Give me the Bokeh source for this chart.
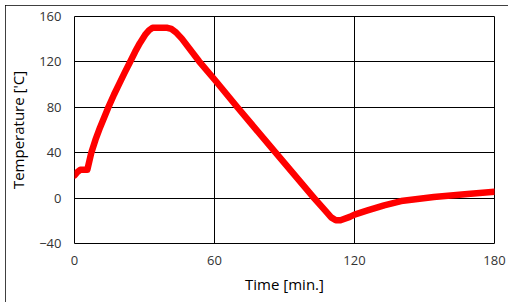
from bokeh.plotting import figure
from bokeh.models import Range1d, FixedTicker
from bokeh.embed import file_html
from bokeh.resources import INLINE

time_min = [0, 1, 2.5, 5.5, 7.2, 9, 11, 14.3, 17, 19, 21.5, 23.7, 26, 28, 30.5, 32, 33.5,
            39.8, 41.5, 43.5, 46, 53.4, 60, 69.8, 86.2, 102.7, 107, 110, 112, 114, 118, 120,
            125.6, 132.7, 140, 154, 168.5, 180]
temp_c = [20, 22.5, 25, 25, 40, 51.5, 62.5, 79, 91.5, 100, 110.5, 119.5, 129, 136.5, 144.5, 148, 150,
          150, 149, 146, 140.5, 120.5, 104.5, 80, 40, 0, -10, -17, -19.5, -19.5, -16.5, -14.5,
          -10.9, -6.4, -2.6, 0.9, 3.6, 5.6]

x_ticks = [0, 60, 120, 180]
y_ticks = [-40, 0, 40, 80, 120, 160]

FONT = "Open Sans"

p = figure(width=503, height=297, output_backend="svg", toolbar_location=None,
           x_range=Range1d(0, 180), y_range=Range1d(-40, 160),
           min_border_left=69, min_border_right=14, min_border_top=11, min_border_bottom=59)
p.margin = (5, 0, 0, 5)
p.styles = {"outline": "1px solid black", "outline-offset": "-1px"}
p.background_fill_color = "white"
p.border_fill_color = "white"
p.outline_line_color = "black"
p.outline_line_width = 1

p.line(time_min, temp_c, line_color="#ff0000", line_width=6.5, line_join="round", line_cap="round")

for ax in (p.xaxis[0], p.yaxis[0]):
    ax.axis_line_color = None
    ax.major_tick_line_color = None
    ax.minor_tick_line_color = None
    ax.major_tick_in = 0
    ax.major_tick_out = 0
    ax.major_label_text_font = FONT
    ax.major_label_text_font_size = "13px"
    ax.major_label_text_color = "#333333"
    ax.axis_label_text_font = FONT
    ax.axis_label_text_font_size = "15px"
    ax.axis_label_text_font_style = "normal"
    ax.axis_label_text_color = "black"

p.xaxis.ticker = FixedTicker(ticks=x_ticks)
p.yaxis.ticker = FixedTicker(ticks=y_ticks)
p.xaxis.axis_label = "Time [min.]"
p.yaxis.axis_label = "Temperature ['C]"
p.xaxis.major_label_standoff = 12
p.yaxis.major_label_standoff = 13
p.xaxis.axis_label_standoff = 6
p.yaxis.axis_label_standoff = 8

p.xgrid.ticker = FixedTicker(ticks=x_ticks)
p.ygrid.ticker = FixedTicker(ticks=y_ticks)
for g in (p.xgrid[0], p.ygrid[0]):
    g.grid_line_color = "black"
    g.grid_line_alpha = 1
    g.grid_line_width = 1

open("out.html", "w").write(file_html(p, INLINE))
